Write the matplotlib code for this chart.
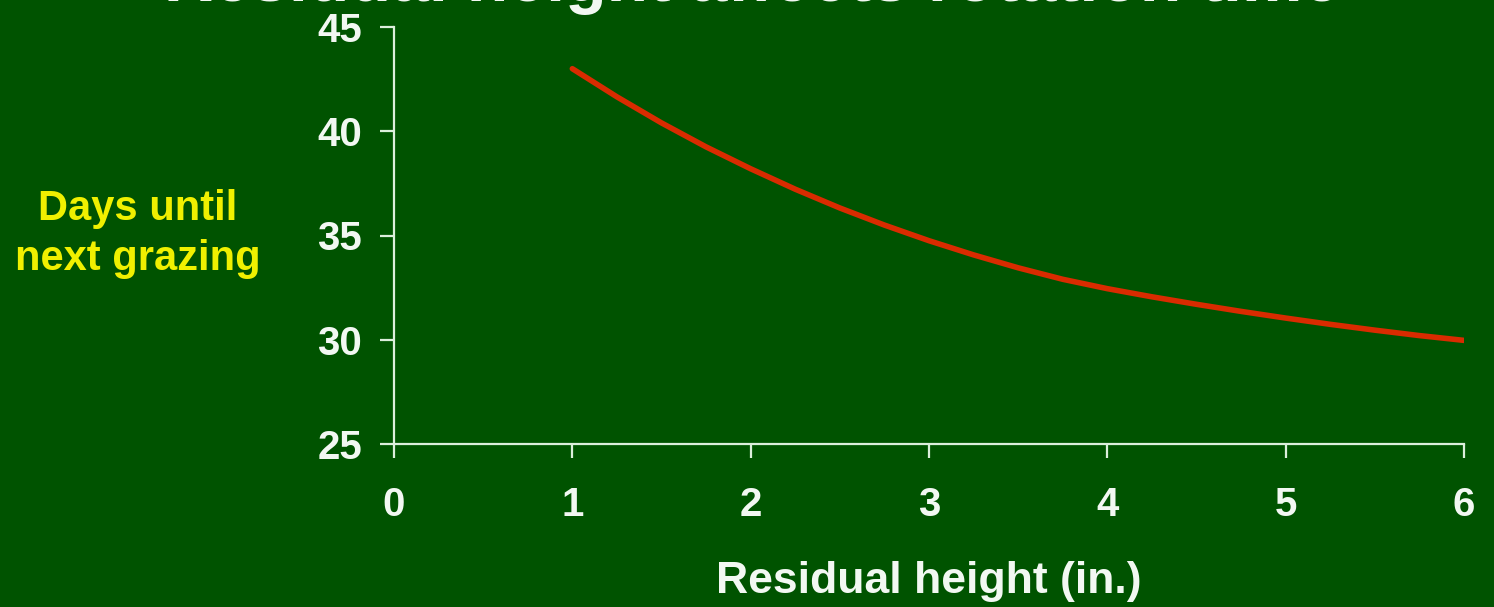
import matplotlib.pyplot as plt

# residual height (in.) vs days until next grazing
heights = [1, 1.25, 1.5, 1.75, 2, 2.25, 2.5, 2.75, 3, 3.25, 3.5,
           3.75, 4, 4.25, 4.5, 4.75, 5, 5.25, 5.5, 5.75, 6]
days = [43.0, 41.65, 40.4, 39.25, 38.2, 37.22, 36.32, 35.5, 34.75, 34.07,
        33.45, 32.9, 32.45, 32.06, 31.7, 31.36, 31.04, 30.74, 30.46, 30.2,
        29.97]

x_ticks = [0, 1, 2, 3, 4, 5, 6]
y_ticks = [25, 30, 35, 40, 45]

bg = "#005300"
axis_col = "#dcefdc"
txt_col = "#f2f8f2"
fam = ["Liberation Sans", "DejaVu Sans"]

fig = plt.figure(figsize=(14.94, 6.07), dpi=100, facecolor=bg)
ax = fig.add_axes([394 / 1494, 1 - 444 / 607, 1070 / 1494, 417 / 607])
ax.set_facecolor(bg)

ax.plot(heights, days, color="#d92b00", lw=4, solid_capstyle="round",
        solid_joinstyle="round")

ax.set_xlim(0, 6)
ax.set_ylim(25, 45)
ax.set_xticks(x_ticks)
ax.set_yticks(y_ticks)

for s in ["top", "right"]:
    ax.spines[s].set_visible(False)
for s in ["left", "bottom"]:
    ax.spines[s].set_color(axis_col)
    ax.spines[s].set_linewidth(1.6)

ax.tick_params(colors=axis_col, width=1.6, length=10, direction="out")
ax.tick_params(axis="x", pad=20)
ax.tick_params(axis="y", pad=13)
for lab in ax.get_xticklabels() + ax.get_yticklabels():
    lab.set_family(fam)
    lab.set_fontweight("bold")
    lab.set_fontsize(29)
    lab.set_color(txt_col)

ax.set_xlabel("Residual height (in.)", family=fam, fontweight="bold",
              fontsize=32, color=txt_col, va="baseline")
ax.xaxis.set_label_coords(0.5, (444 - 593) / 417)

fig.text(138 / 1494, 1 - 234 / 607, "Days until\nnext grazing",
         family=fam, fontweight="bold", fontsize=30, color="#f0f000",
         ha="center", va="center", linespacing=1.32)

# title is cut off at the top of the frame in the original
fig.text(752 / 1494, 1 - 1 / 607, "Residual height affects rotation time",
         family=fam, fontweight="bold", fontsize=49, color=txt_col,
         ha="center", va="baseline")

fig.savefig("out.png", dpi=100, facecolor=bg)
